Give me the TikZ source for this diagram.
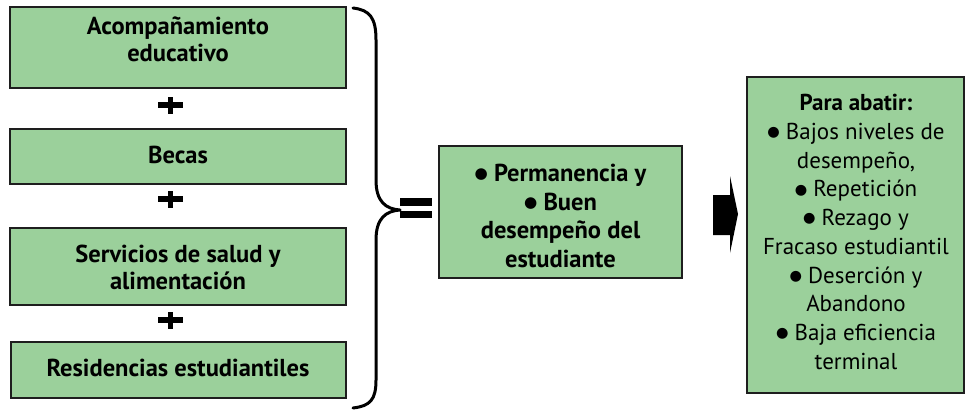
\documentclass[tikz,border=0pt]{standalone}
\usepackage{fontspec}
\setmainfont{PT Sans}
\newfontfamily\symfont{DejaVu Sans}
\newcommand{\bul}{{\symfont\raisebox{0.12em}{\scalebox{0.62}{●}}}}
\definecolor{boxgreen}{RGB}{155,208,155}
\definecolor{boxedge}{RGB}{30,30,30}
\tikzset{
  gbox/.style={draw=boxedge, line width=1.6pt, fill=boxgreen, inner sep=0pt},
  btxt/.style={font=\fontsize{24.5}{27}\selectfont\bfseries, align=center, inner sep=0pt},
  rtxt/.style={font=\fontsize{23}{28.7}\selectfont, align=center, inner sep=0pt},
  thick line/.style={line width=3pt, line cap=round, line join=round},
  solidmark/.style={fill=black, draw=none}
}
\begin{document}
\begin{tikzpicture}[x=1pt,y=-1pt]
\useasboundingbox (0,0) rectangle (966,412);
% left boxes
\node[gbox, minimum width=336pt, minimum height=81pt] (b1) at (178,47.5) {};
\node[btxt] (t1) at (178,39) {Acompañamiento\\educativo};
\node[gbox, minimum width=336pt, minimum height=55pt] (b2) at (178,156.5) {};
\node[btxt] (t2) at (178,154.5) {Becas};
\node[gbox, minimum width=336pt, minimum height=77pt] (b3) at (178,266.5) {};
\node[btxt] (t3) at (178,267.5) {Servicios de salud y\\alimentación};
\node[gbox, minimum width=335pt, minimum height=56pt] (b4) at (178.5,370) {};
\node[btxt] (t4) at (178,367.5) {Residencias estudiantiles};
% plus signs
\foreach \py in {105,199,320}{
  \fill[solidmark] (157.5,\py-2.6) rectangle (182.5,\py+2.6);
  \fill[solidmark] (167.5,\py-8.5) rectangle (172.5,\py+8.5);
}
% brace
\draw[thick line] (353,8) .. controls (370,10) and (376,18) .. (376,40)
  -- (376,180) .. controls (376,202) and (386,209) .. (400,210)
  .. controls (386,211) and (376,218) .. (376,240)
  -- (376,380) .. controls (376,400) and (370,406) .. (353,408);
% equals
\fill[solidmark] (400,198) rectangle (432,205.5);
\fill[solidmark] (400,210.5) rectangle (432,218);
% middle box
\node[gbox, minimum width=243pt, minimum height=132pt] (mid) at (560.5,212) {};
\node[btxt, font=\fontsize{24.5}{28.5}\selectfont\bfseries] (mt) at (560.5,216) {\bul\ Permanencia y\\\bul\ Buen\\desempeño del\\estudiante};
% arrow
\fill[solidmark] (713,195) -- (730,195) -- (730,176) -- (738,214) -- (730,253) -- (730,235) -- (713,235) -- cycle;
% right box
\node[gbox, minimum width=217pt, minimum height=316pt] (right) at (855.5,235) {};
\node[rtxt] (rt) at (856,232) {\textbf{Para abatir:}\\\bul\ Bajos niveles de\\desempeño,\\\bul\ Repetición\\\bul\ Rezago y\\Fracaso estudiantil\\\bul\ Deserción y\\Abandono\\\bul\ Baja eficiencia\\terminal};
\end{tikzpicture}
\end{document}
